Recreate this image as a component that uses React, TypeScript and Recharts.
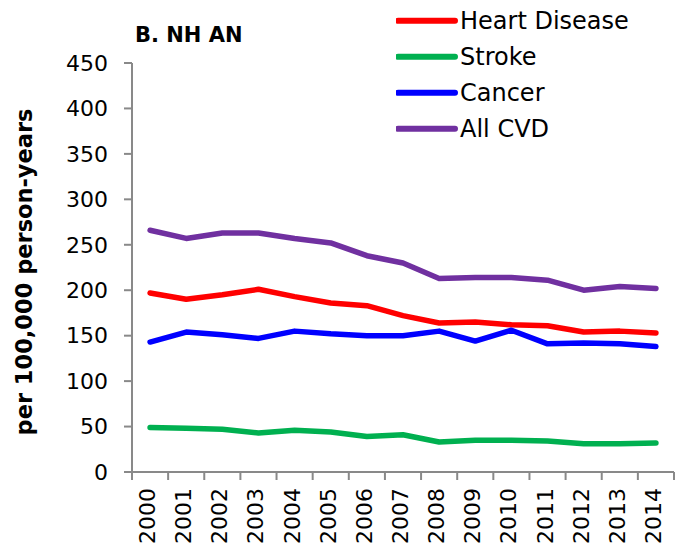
import React from "react";
import { ComposedChart, Line, XAxis, YAxis, Legend, Label } from "recharts";

const years = ["2000", "2001", "2002", "2003", "2004", "2005", "2006", "2007", "2008", "2009", "2010", "2011", "2012", "2013", "2014"];
const heartDisease = [197, 190, 195, 201, 193, 186, 183, 172, 164, 165, 162, 161, 154, 155, 153];
const stroke = [49, 48, 47, 43, 46, 44, 39, 41, 33, 35, 35, 34, 31, 31, 32];
const cancer = [143, 154, 151, 147, 155, 152, 150, 150, 155, 144, 156, 141, 142, 141, 138];
const allCvd = [266, 257, 263, 263, 257, 252, 238, 230, 213, 214, 214, 211, 200, 204, 202];
const yTicks = [0, 50, 100, 150, 200, 250, 300, 350, 400, 450];

const seriesNames = ["Heart Disease", "Stroke", "Cancer", "All CVD"];
const seriesColors = ["#FF0000", "#00B050", "#0000FF", "#7030A0"];
const seriesKeys = ["heart", "stroke", "cancer", "cvd"];

const data = years.map((y, i) => ({
  year: y,
  heart: heartDisease[i],
  stroke: stroke[i],
  cancer: cancer[i],
  cvd: allCvd[i],
}));

const FONT = "'DejaVu Sans', sans-serif";
const AXIS = "#898989";

const XTick = (props: any) => {
  const { x, y, payload, width, visibleTicksCount, index } = props;
  const band = width / visibleTicksCount;
  const half = band / 2;
  return (
    <g>
      <line x1={x - half} x2={x - half} y1={y - 8} y2={y} stroke={AXIS} strokeWidth={2} />
      {index === visibleTicksCount - 1 && (
        <line x1={x + half} x2={x + half} y1={y - 8} y2={y} stroke={AXIS} strokeWidth={2} />
      )}
      <g transform={`translate(${x},${y})`}>
        <text
          transform="rotate(-90)"
          x={-8}
          y={5}
          textAnchor="end"
          fontFamily={FONT}
          fontSize={22}
          fill="#000"
        >
          {payload.value}
        </text>
      </g>
    </g>
  );
};

const renderLegend = () => {
  return (
    <svg width={280} height={150}>
      {seriesNames.map((name, i) => {
        const cy = 20.7 + 36 * i;
        return (
          <g key={name}>
            <line x1={2} x2={59} y1={cy} y2={cy} stroke={seriesColors[i]} strokeWidth={6} strokeLinecap="round" />
            <text x={64} y={cy + 8} fontFamily={FONT} fontSize={24} fill="#000">
              {name}
            </text>
          </g>
        );
      })}
    </svg>
  );
};

export default function App() {
  return (
    <div style={{ position: "absolute", left: 0, top: 0, width: 676, height: 552, background: "#fff" }}>
      <ComposedChart
        width={676}
        height={552}
        data={data}
        margin={{ top: 63, right: 2, bottom: 0, left: 0 }}
      >
        <XAxis
          dataKey="year"
          type="category"
          scale="band"
          interval={0}
          height={80}
          tickSize={8}
          tickMargin={0}
          tickLine={false}
          axisLine={{ stroke: AXIS, strokeWidth: 2 }}
          tick={<XTick />}
        />
        <YAxis
          width={132}
          domain={[0, 450]}
          ticks={yTicks}
          interval={0}
          tickSize={8}
          tickMargin={16}
          axisLine={{ stroke: AXIS, strokeWidth: 2 }}
          tickLine={{ stroke: AXIS, strokeWidth: 2 }}
          tick={{ fontFamily: FONT, fontSize: 22, fill: "#000" }}
        >
          <Label
            position="center"
            content={() => (
              <text
                x={32}
                y={272}
                transform="rotate(-90, 32, 272)"
                textAnchor="middle"
                fontFamily={FONT}
                fontWeight="bold"
                fontSize={22.5}
                fill="#000"
              >
                per 100,000 person-years
              </text>
            )}
          />
        </YAxis>
        <Legend
          layout="vertical"
          align="center"
          verticalAlign="middle"
          content={renderLegend}
          wrapperStyle={{ position: "absolute", left: 396, top: 0, width: 280, height: 150 }}
        />
        {seriesKeys.map((k, i) => (
          <Line
            key={k}
            type="linear"
            dataKey={k}
            name={seriesNames[i]}
            stroke={seriesColors[i]}
            strokeWidth={5.5}
            strokeLinecap="round"
            strokeLinejoin="round"
            dot={false}
            activeDot={false}
            isAnimationActive={false}
          />
        ))}
      </ComposedChart>
      <div
        style={{
          position: "absolute",
          left: 135,
          top: 22,
          fontFamily: FONT,
          fontWeight: "bold",
          fontSize: 21,
          lineHeight: "26px",
          color: "#000",
          whiteSpace: "nowrap",
        }}
      >
        B. NH AN
      </div>
    </div>
  );
}
